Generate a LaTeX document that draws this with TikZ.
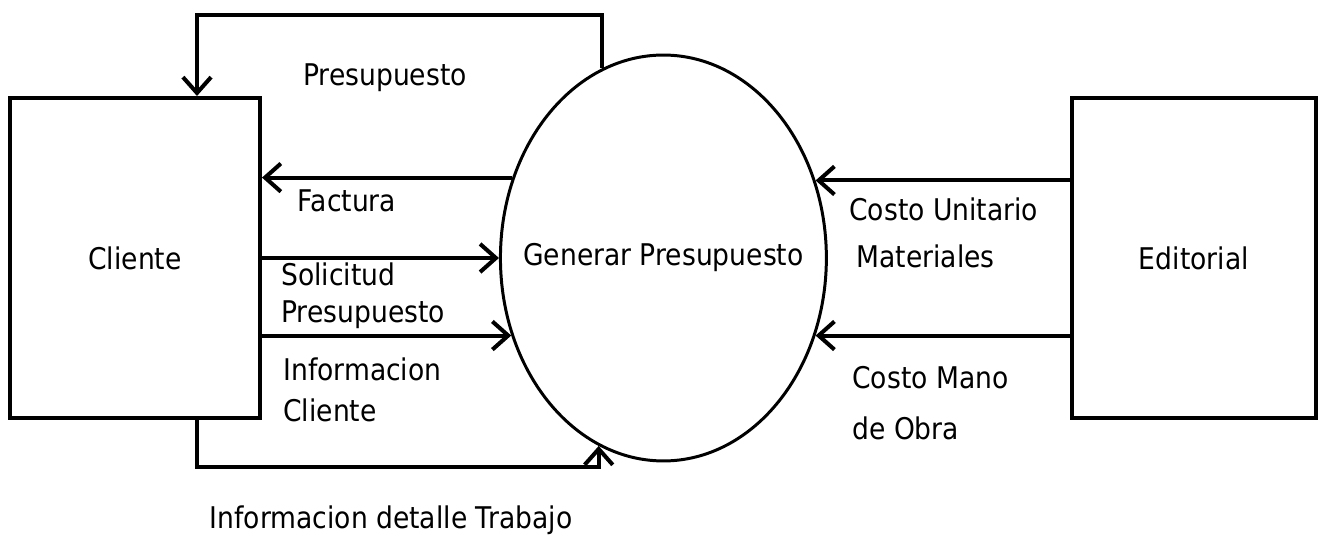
\documentclass[tikz,border=0pt]{standalone}
\usepackage{fontspec}
\setmainfont[FakeStretch=0.89]{DejaVu Sans}
\usetikzlibrary{positioning, shapes, arrows.meta}

\begin{document}
\begin{tikzpicture}[x=0.02cm, y=-0.02cm,
    every node/.style={font=\fontsize{17}{21}\selectfont},
    ent/.style={draw, line width=2.3pt, minimum width=5cm, minimum height=6.4cm, inner sep=0pt},
    proc/.style={draw, ellipse, line width=1.7pt, minimum width=6.52cm, minimum height=8.12cm, inner sep=0pt},
    flow/.style={line width=2.3pt, -{Straight Barb[length=9pt, width=16pt]}},
    lbl/.style={align=left, inner sep=0pt}]

  \useasboundingbox (0,0) rectangle (1322,540);

  % entidades y proceso
  \node[ent] (cli) at (135,258) {Cliente};
  \node[proc, right = 4.74cm of cli, label=center:Generar Presupuesto] (gp) {};
  \node[ent, minimum width=4.88cm, right = 4.84cm of gp] (ed) {Editorial};

  % puntos de paso
  \coordinate (pr) at (197,15);
  \coordinate (dt) at (197,467);

  % flujos
  \draw[flow] (gp.108.6) |- (pr) -- (pr |- cli.north);
  \draw[flow] (gp.152.5) -- (cli.east |- gp.152.5);
  \draw[flow] (cli.east |- gp.west) -- (gp.west);
  \draw[flow] (cli.east |- gp.207) -- (gp.207);
  \draw[flow] (dt |- cli.south) -- (dt) -| (gp.251.4);
  \draw[flow] (ed.west |- gp.27.5) -- (gp.27.5);
  \draw[flow] (ed.west |- gp.333) -- (gp.333);

  % etiquetas
  \node[lbl] (lpres) at (385,78) {Presupuesto};
  \node[lbl] (lfac) at (347,201) {Factura};
  \node[lbl, anchor=west] (lsol) at (281,296) {Solicitud\\Presupuesto};
  \node[lbl, anchor=west, font=\fontsize{17}{23}\selectfont] (linf) at (283,390) {Informacion\\Cliente};
  \node[lbl] (ldet) at (391,520) {Informacion detalle Trabajo};
  \node[lbl, anchor=west, font=\fontsize{17}{27}\selectfont] (lcu) at (849,233) {Costo Unitario\\\hspace*{4pt}Materiales};
  \node[lbl, anchor=west, font=\fontsize{17}{29}\selectfont] (lmo) at (852,403) {Costo Mano\\de Obra};
\end{tikzpicture}
\end{document}
